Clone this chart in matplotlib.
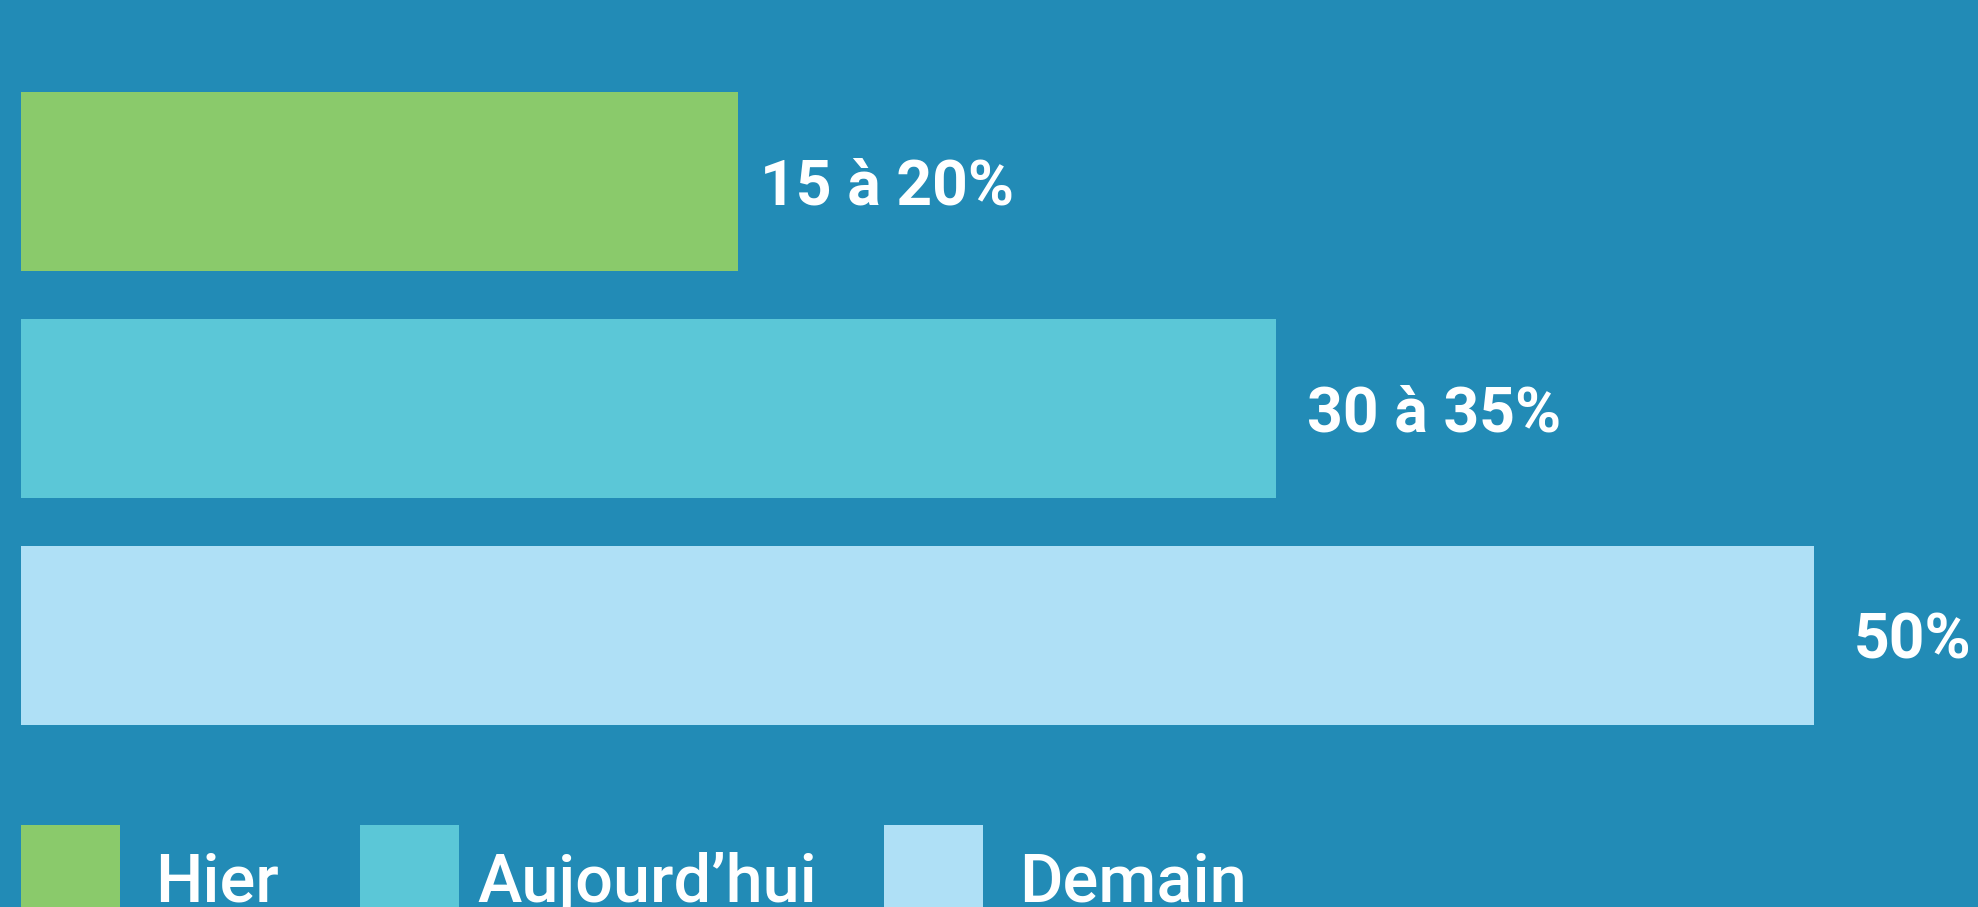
import matplotlib.pyplot as plt
from matplotlib.patches import Rectangle

# data
periods = ["Hier", "Aujourd\u2019hui", "Demain"]
values = [20, 35, 50]
labels = ["15 \u00e0 20%", "30 \u00e0 35%", "50%"]

bg = "#228bb6"
colors = ["#8aca6b", "#5bc7d7", "#afe0f6"]

W, H = 1978, 907
fig = plt.figure(figsize=(W / 100, H / 100), dpi=100, facecolor=bg)
ax = fig.add_axes([0, 0, 1, 1])
ax.set_facecolor(bg)

ypos = list(range(len(values)))
ax.barh(ypos, values, height=0.79, color=colors, edgecolor="none")

# pixel-matched limits (0 at x=21px, 50 at x=1814px)
ax.set_xlim(-0.586, 54.57)
ax.set_ylim(3.196, -0.8)
ax.axis("off")

pads = [0.60, 0.85, 1.10]
for y, v, lab, p in zip(ypos, values, labels, pads):
    ax.text(v + p, y + 0.027, lab, color="white", fontsize=45,
            fontfamily="Roboto", fontweight="bold", va="center", ha="left")

# legend drawn by hand: square swatches cut by the bottom edge
sw_x = [21, 360, 884]
txt_x = [155, 477, 1019]
sw_size = 99
sw_top = 825
for c, name, sx, tx in zip(colors, periods, sw_x, txt_x):
    fig.patches.append(Rectangle((sx / W, 1 - (sw_top + sw_size) / H),
                                 sw_size / W, sw_size / H, facecolor=c,
                                 edgecolor="none", transform=fig.transFigure))
    fig.text(tx / W, 1 - 901 / H, name, color="white", fontsize=48,
             fontfamily="Roboto", fontweight="medium", va="baseline", ha="left")

fig.savefig("out.png", dpi=100, facecolor=bg)
